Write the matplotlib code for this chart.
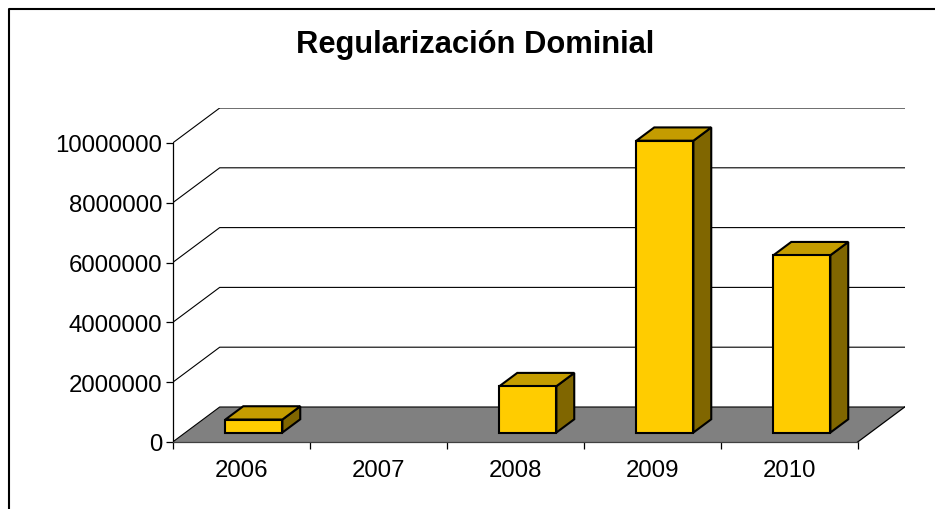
import matplotlib
matplotlib.use("Agg")
import matplotlib.pyplot as plt
from matplotlib.patches import Polygon
from matplotlib.lines import Line2D
from matplotlib.ticker import FixedLocator, NullFormatter

years = ["2006", "2007", "2008", "2009", "2010"]
values = [435000, 0, 1550000, 9760000, 5930000]
yticks = [0, 2000000, 4000000, 6000000, 8000000, 10000000]

plt.rcParams['font.family'] = ['Liberation Sans', 'DejaVu Sans']

W, H = 935, 510
fig = plt.figure(figsize=(W / 100, H / 100), dpi=100)

# front plane in pixels: x 172.7..857.7, y 443 (0) .. 144 (10M)
front_l, front_r = 172.7, 857.7
base_y, top_y = 443, 144
depth_px = (47, 35)
cat_px = (front_r - front_l) / len(years)
val_px = (base_y - top_y) / 10e6
DX = depth_px[0] / cat_px
DY = depth_px[1] / val_px

ax = fig.add_axes([front_l / W, (H - base_y) / H,
                   (front_r - front_l + depth_px[0]) / W,
                   (base_y - top_y + depth_px[1]) / H])
ax.set_xlim(0, len(years) + DX)
ax.set_ylim(0, 10e6 + DY)
ax.patch.set_visible(False)

for s in ["top", "right"]:
    ax.spines[s].set_visible(False)
ax.spines["left"].set_bounds(0, 10e6)
ax.spines["bottom"].set_bounds(0, len(years))
ax.spines["left"].set_linewidth(0.9)
ax.spines["bottom"].set_linewidth(0.9)
ax.spines["bottom"].set_color("#404040")

ax.set_yticks(yticks)
ax.set_yticklabels([str(v) for v in yticks])
ax.tick_params(axis="y", length=5, width=0.9, pad=2.5, labelsize=17.3)

ax.xaxis.set_major_locator(FixedLocator(range(len(years) + 1)))
ax.xaxis.set_major_formatter(NullFormatter())
ax.xaxis.set_minor_locator(FixedLocator([i + 0.5 for i in range(len(years))]))
ax.set_xticklabels(years, minor=True)
ax.tick_params(axis="x", which="major", length=5, width=0.9)
ax.tick_params(axis="x", which="minor", length=0, pad=12, labelsize=17.3)

# floor
n = len(years)
ax.add_patch(Polygon([(0, 0), (n, 0), (n + DX, DY), (DX, DY)], closed=True,
                     facecolor="#808080", edgecolor="none", zorder=1))
ax.plot([n, n + DX], [0, DY], color="black", lw=0.9, zorder=2)

# side wall diagonals + back wall gridlines
for v in yticks:
    ax.plot([0, DX, n + DX], [v, v + DY, v + DY], color="black", lw=0.8, zorder=2)

# bars
bw = 0.416
d0, dd = 0.27, 0.38
for i, v in enumerate(values):
    if v == 0:
        continue
    xc = i + 0.5 + d0 * DX
    xl, xr = xc - bw / 2, xc + bw / 2
    yb = d0 * DY
    yt = yb + v
    ox, oy = dd * DX, dd * DY
    side = [(xr, yb), (xr + ox, yb + oy), (xr + ox, yt + oy), (xr, yt)]
    top = [(xl, yt), (xr, yt), (xr + ox, yt + oy), (xl + ox, yt + oy)]
    front = [(xl, yb), (xr, yb), (xr, yt), (xl, yt)]
    for pts, col in [(side, "#806600"), (top, "#C49C00"), (front, "#FFCC00")]:
        ax.add_patch(Polygon(pts, closed=True, facecolor=col, edgecolor="black",
                             lw=1.5, joinstyle="miter", zorder=3))

fig.text(475.5 / W, 1 - 45 / H, "Regularización Dominial", ha="center", va="center",
         fontsize=22.2, fontweight="bold")

# chart area border (top and left visible)
fig.add_artist(Line2D([9 / W, 9 / W, 1], [0, 1 - 10 / H, 1 - 10 / H],
                      color="black", lw=1.5))

fig.savefig("out.png", dpi=100)
